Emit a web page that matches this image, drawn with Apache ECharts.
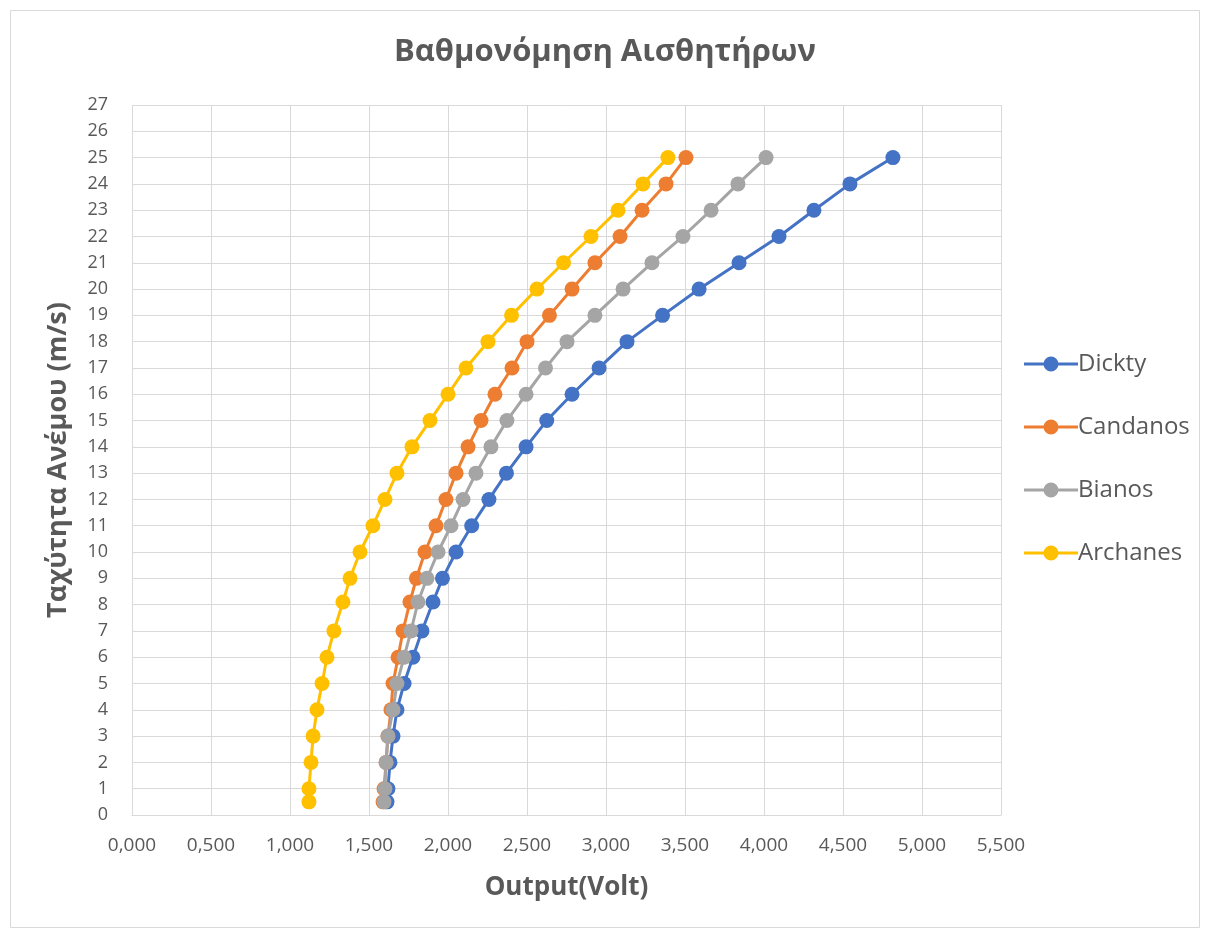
<!DOCTYPE html>
<html><head><meta charset="utf-8">
<script src="https://cdn.jsdelivr.net/npm/echarts@6/dist/echarts.min.js"></script>
<style>html,body{margin:0;padding:0;background:#fff}#c{width:1210px;height:938px}</style>
</head><body><div id="c"></div>
<script>
const speeds = [0.5,1,2,3,4,5,6,7,8.1,9,10,11,12,13,14,15,16,17,18,19,20,21,22,23,24,25];
const dickty   = [1.614,1.620,1.633,1.652,1.677,1.722,1.778,1.835,1.905,1.965,2.051,2.150,2.259,2.370,2.494,2.625,2.785,2.956,3.133,3.358,3.589,3.842,4.095,4.316,4.544,4.816];
const candanos = [1.589,1.595,1.608,1.620,1.639,1.652,1.684,1.715,1.759,1.800,1.854,1.924,1.987,2.051,2.127,2.209,2.297,2.405,2.500,2.642,2.785,2.930,3.089,3.228,3.380,3.506];
const bianos   = [1.595,1.601,1.608,1.620,1.652,1.677,1.722,1.766,1.810,1.867,1.937,2.019,2.095,2.177,2.272,2.373,2.494,2.617,2.753,2.930,3.108,3.291,3.487,3.665,3.835,4.013];
const archanes = [1.120,1.120,1.133,1.146,1.171,1.203,1.234,1.278,1.335,1.380,1.443,1.525,1.601,1.677,1.772,1.886,2.000,2.114,2.253,2.402,2.563,2.731,2.905,3.076,3.234,3.392];
const seriesNames = ['Dickty','Candanos','Bianos','Archanes'];
const seriesColors = ['#4472C4','#ED7D31','#A5A5A5','#FFC000'];
const seriesData = [dickty,candanos,bianos,archanes];

const chart = echarts.init(document.getElementById('c'));
const txt = '#595959';
const font = '"Open Sans", "Noto Sans", sans-serif';
chart.setOption({
  backgroundColor:'#fff',
  graphic:[{type:'rect',shape:{x:10.5,y:10.5,width:1189,height:917},style:{fill:'none',stroke:'#D9D9D9',lineWidth:1}}],
  title:{text:'Βαθμονόμηση Αισθητήρων',left:'center',top:32,
    textStyle:{fontFamily:font,fontSize:31,fontWeight:'bold',color:txt}},
  legend:{orient:'vertical',left:1019,top:347,itemGap:39,itemWidth:54,itemHeight:30,
    icon:'path://M0,13.5 H54 V16.5 H0 Z M27,7.5 A7.5,7.5 0 1 1 26.99,7.5 Z',
    textStyle:{fontFamily:font,fontSize:24,color:txt,padding:[0,0,0,-5]},
    data:seriesNames},
  grid:{left:132,right:209,top:105,bottom:123,containLabel:false},
  xAxis:{type:'value',min:0,max:5.5,interval:0.5,
    name:'Output(Volt)',nameLocation:'middle',nameGap:60,
    nameTextStyle:{fontFamily:font,fontSize:26,fontWeight:'bold',color:txt},
    axisLine:{show:true,lineStyle:{color:'#D9D9D9',width:1}},axisTick:{show:false},
    axisLabel:{color:txt,fontFamily:font,fontSize:19,margin:21,
      formatter:v=>v.toFixed(3).replace('.',',')},
    splitLine:{show:true,lineStyle:{color:'#D9D9D9',width:1}}},
  yAxis:{type:'value',min:0,max:27,interval:1,
    name:'Ταχύτητα Ανέμου (m/s)',nameLocation:'middle',nameGap:60,nameRotate:90,
    nameTextStyle:{fontFamily:font,fontSize:27,fontWeight:'bold',color:txt},
    axisLine:{show:false},axisTick:{show:false},
    axisLabel:{color:txt,fontFamily:font,fontSize:18,margin:24},
    splitLine:{show:true,lineStyle:{color:'#D9D9D9',width:1}}},
  series:seriesNames.map((n,i)=>({
    name:n,type:'line',data:seriesData[i].map((x,j)=>[x,speeds[j]]),
    symbol:'circle',symbolSize:15,showSymbol:true,
    lineStyle:{color:seriesColors[i],width:3},
    itemStyle:{color:seriesColors[i]},
    z:2+i,animation:false
  }))
});
</script></body></html>
